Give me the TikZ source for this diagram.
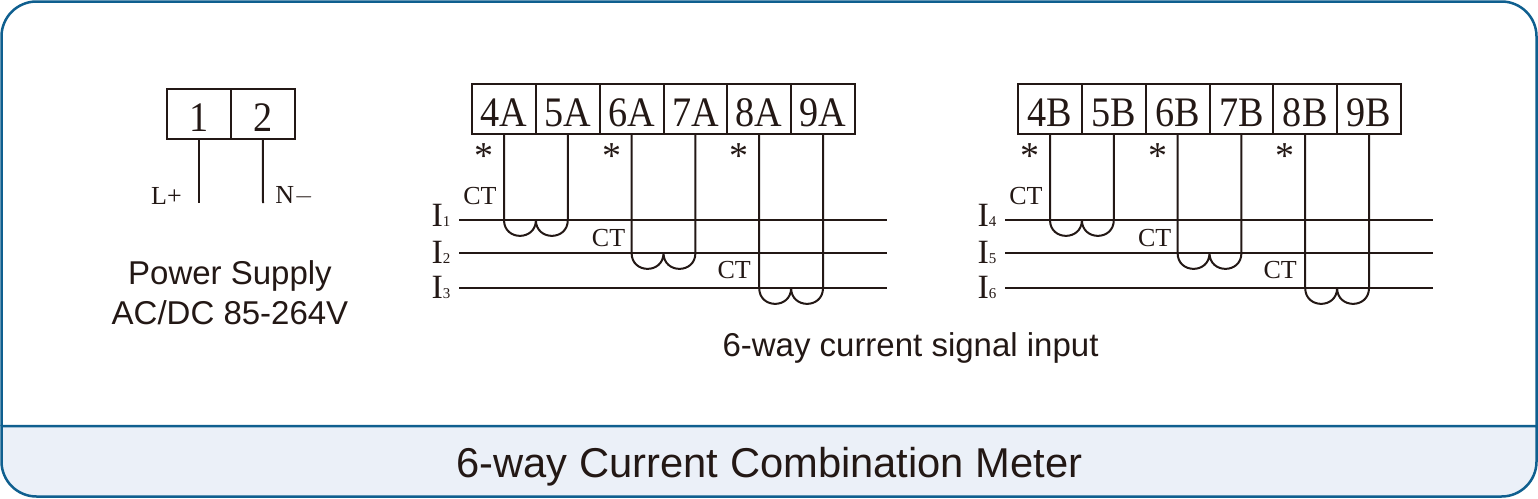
\documentclass[tikz,border=0pt]{standalone}
\usepackage{fontspec}
\setmainfont{Liberation Serif}
\newfontfamily\labelfont{Liberation Sans}
\newfontfamily\termfont[FakeStretch=0.91]{Liberation Serif}
\usetikzlibrary{positioning}
\definecolor{colorF}{HTML}{0F5F8F}
\definecolor{colorB}{HTML}{EBF0F8}
\definecolor{colorT}{HTML}{231815}
\tikzset{
    term/.style={draw=colorT, line width=2pt, minimum width=63.8pt, minimum height=50pt, inner sep=0pt, outer sep=0pt, text=colorT, text height=34pt, text depth=0pt, font=\termfont\fontsize{42}{42}\selectfont},
    wire/.style={draw=colorT, line width=2pt},
    small/.style={inner sep=0pt, text=colorT, font=\fontsize{26}{26}\selectfont},
    caption/.style={inner sep=0pt, text=colorT, font=\labelfont\fontsize{33}{40}\selectfont, align=center}
}

\begin{document}
\begin{tikzpicture}[x=1pt, y=-1pt]
    \useasboundingbox (0,0) rectangle (1538,498);
    % frame and title band
    \filldraw[fill=colorB, draw=colorF, line width=2.5pt] (1.5,426) [rounded corners=35pt] -- (1.5,496.5) -- (1536.5,496.5) [sharp corners] -- (1536.5,426) -- cycle;
    \draw[colorF, line width=2.5pt] (1.5,426) [rounded corners=35pt] -- (1.5,1.5) -- (1536.5,1.5) [sharp corners] -- (1536.5,426);
    \node[caption, font=\labelfont\fontsize{41.7}{42}\selectfont] (title) at (769.5,467) {6-way Current Combination Meter};
    % power supply
    \node[term] (t1) at (199,114) {1};
    \node[term, right=0pt of t1] (t2) {2};
    \coordinate (endL) at (199,203);
    \coordinate (endN) at (263,203);
    \draw[wire] (t1.south) -- (endL);
    \draw[wire] (t2.south) -- (endN);
    \node[small] (lplus) at (166.5,196) {L+};
    \node[small] (nminus) at (294.5,196) {N$-$};
    \node[caption] (supply) at (230,293) {Power Supply\\AC/DC 85-264V};
    \node[caption] (signal) at (910.5,348) {6-way current signal input};
    % current inputs
    \foreach \g/\bx/\ix in {A/504/0, B/1050/3} {
        \node[term] (t4\g) at (\bx,109) {4\g};
        \node[term, right=0pt of t4\g] (t5\g) {5\g};
        \node[term, right=0pt of t5\g] (t6\g) {6\g};
        \node[term, right=0pt of t6\g] (t7\g) {7\g};
        \node[term, right=0pt of t7\g] (t8\g) {8\g};
        \node[term, right=0pt of t8\g] (t9\g) {9\g};
        \foreach \a/\b/\n/\y/\ly/\cx/\cy in {4/5/1/220/215/24/24, 6/7/2/253/252/23/15, 8/9/3/288/287/25/18} {
            \pgfmathtruncatemacro{\num}{\n+\ix}
            \coordinate (from\g\n) at (\bx-45,\y);
            \coordinate (to\g\n) at (\bx+383,\y);
            \coordinate (in\g\n) at (t\a\g.south |- from\g\n);
            \coordinate (mid\g\n) at (t\b\g.west |- from\g\n);
            \coordinate (out\g\n) at (t\b\g.south |- from\g\n);
            \draw[wire] (from\g\n) -- (to\g\n);
            \draw[wire] (t\a\g.south) -- (in\g\n) to[out=-90, in=-90, looseness=1.7] (mid\g\n) to[out=-90, in=-90, looseness=1.7] (out\g\n) -- (t\b\g.south);
            \node[small, font=\fontsize{34}{34}\selectfont] (lab\g\n) at (\bx-63,\ly) {I{\fontsize{15}{15}\selectfont\num}};
            \node[small] (ct\g\n) at ([xshift=-\cx pt, yshift=\cy pt]in\g\n) {CT};
            \node[small, font=\fontsize{38}{38}\selectfont] (star\g\n) at ([xshift=-20pt, yshift=-22pt]t\a\g.south) {*};
        }
    }
\end{tikzpicture}
\end{document}
